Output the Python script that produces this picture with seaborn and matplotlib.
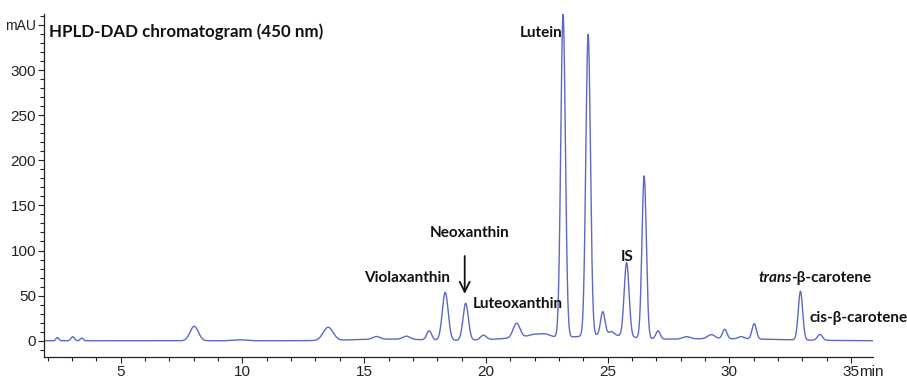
import numpy as np
import pandas as pd
import matplotlib
matplotlib.use("Agg")
import matplotlib.pyplot as plt
import matplotlib.transforms as mtransforms
from matplotlib.ticker import MultipleLocator, FixedLocator
import seaborn as sns

# Peak table of the 450 nm trace: retention time (min), height (mAU), width sigma (min)
retention_time = [2.40, 3.03, 3.40, 8.02, 9.90, 13.52, 15.51, 16.74, 17.67, 18.33,
                  19.17, 19.90, 21.26, 22.00, 22.45, 23.17, 24.20, 24.80, 25.15, 25.78,
                  26.50, 27.07, 28.24, 29.26, 29.81, 30.49, 31.02, 32.92, 33.72]
peak_height = [3.5, 4.5, 3.0, 16.0, 1.0, 14.5, 3.0, 3.5, 10.0, 53.0,
               41.0, 5.0, 16.0, 3.0, 3.0, 358.0, 334.0, 26.0, 4.0, 82.0,
               180.0, 9.0, 2.5, 4.5, 10.5, 2.5, 17.0, 54.0, 6.5]
peak_sigma = [0.06, 0.07, 0.06, 0.17, 0.30, 0.20, 0.15, 0.15, 0.10, 0.12,
              0.11, 0.12, 0.14, 0.25, 0.20, 0.095, 0.095, 0.09, 0.12, 0.10,
              0.09, 0.09, 0.15, 0.15, 0.09, 0.12, 0.09, 0.09, 0.10]

# Slowly varying background under the eluting compounds
background_center = [16.0, 22.0, 24.9, 29.5]
background_height = [1.8, 4.0, 5.5, 2.3]
background_sigma = [1.5, 1.3, 1.0, 2.5]

# Labelled compounds: text, x (min), y (mAU), alignment
compound_names = ["Violaxanthin", "Neoxanthin", "Luteoxanthin", "Lutein", "IS",
                  "cis-β-carotene"]
label_x = [16.75, 19.32, 19.46, 22.25, 25.80, 33.30]
label_y = [70, 119, 41, 341, 93, 25]
label_ha = ["center", "center", "left", "center", "center", "left"]

y_ticks = [0, 50, 100, 150, 200, 250, 300, 350]
y_tick_labels = ["0", "50", "100", "150", "200", "250", "300", "mAU"]
x_ticks = [5, 10, 15, 20, 25, 30, 35]
x_tick_labels = ["5", "10", "15", "20", "25", "30", "35"]

time = np.linspace(1.86, 35.9, 6000)
signal = np.zeros_like(time)
for c, h, s in zip(retention_time + background_center,
                   peak_height + background_height,
                   peak_sigma + background_sigma):
    signal += h * np.exp(-0.5 * ((time - c) / s) ** 2)
trace = pd.DataFrame({"time": time, "mAU": signal})

sns.set_theme(style="ticks")
plt.rcParams["font.family"] = ["Liberation Sans Narrow", "Liberation Sans", "DejaVu Sans"]

fig = plt.figure(figsize=(9.07, 3.80), dpi=100)
ax = fig.add_axes([0.0488, 0.0605, 0.9137, 0.9025])

sns.lineplot(data=trace, x="time", y="mAU", ax=ax, color="#5d69c4", linewidth=1.0)

ax.set_xlim(1.86, 35.9)
ax.set_ylim(-18, 362)
ax.set_xlabel("")
ax.set_ylabel("")
sns.despine(ax=ax)
for sp in ("left", "bottom"):
    ax.spines[sp].set_linewidth(0.9)
    ax.spines[sp].set_color("#222222")

ax.yaxis.set_major_locator(FixedLocator(y_ticks))
ax.set_yticklabels(y_tick_labels)
ax.yaxis.set_minor_locator(MultipleLocator(10))
ax.xaxis.set_major_locator(FixedLocator(x_ticks))
ax.set_xticklabels(x_tick_labels)
ax.xaxis.set_minor_locator(MultipleLocator(1))
ax.tick_params(axis="both", which="major", length=4, width=0.8, labelsize=11,
               color="#222222", labelcolor="#222222", pad=2)
ax.tick_params(axis="both", which="minor", length=3, width=0.8, color="#222222")
for lab in ax.get_yticklabels():
    if lab.get_text() == "mAU":
        lab.set_fontsize(10)

# unit after the last time label
min_tr = mtransforms.offset_copy(ax.get_xaxis_transform(), fig=fig, x=0, y=-6, units="points")
ax.text(35.31, 0, "min", transform=min_tr, ha="left", va="top", fontsize=11, color="#222222")

bold = dict(fontfamily=["Lato", "DejaVu Sans"], fontweight="bold", fontsize=11, color="#111111")
ax.text(2.06, 342, "HPLD-DAD chromatogram (450 nm)", ha="left", va="center",
        fontfamily=["Lato", "DejaVu Sans"], fontweight="bold", fontsize=12.2, color="#111111")

for name, x, y, ha in zip(compound_names, label_x, label_y, label_ha):
    ax.text(x, y, name, ha=ha, va="center", **bold)

# trans-β-carotene with the italic prefix
ax.text(32.55, 69, "trans", ha="right", va="center", fontstyle="italic", **bold)
ax.text(32.53, 69, "-β-carotene", ha="left", va="center", **bold)

ax.annotate("", xy=(19.13, 49), xytext=(19.13, 97),
            arrowprops=dict(arrowstyle="->", color="#111111", lw=1.3, mutation_scale=18))

fig.savefig("out.png", dpi=100)
